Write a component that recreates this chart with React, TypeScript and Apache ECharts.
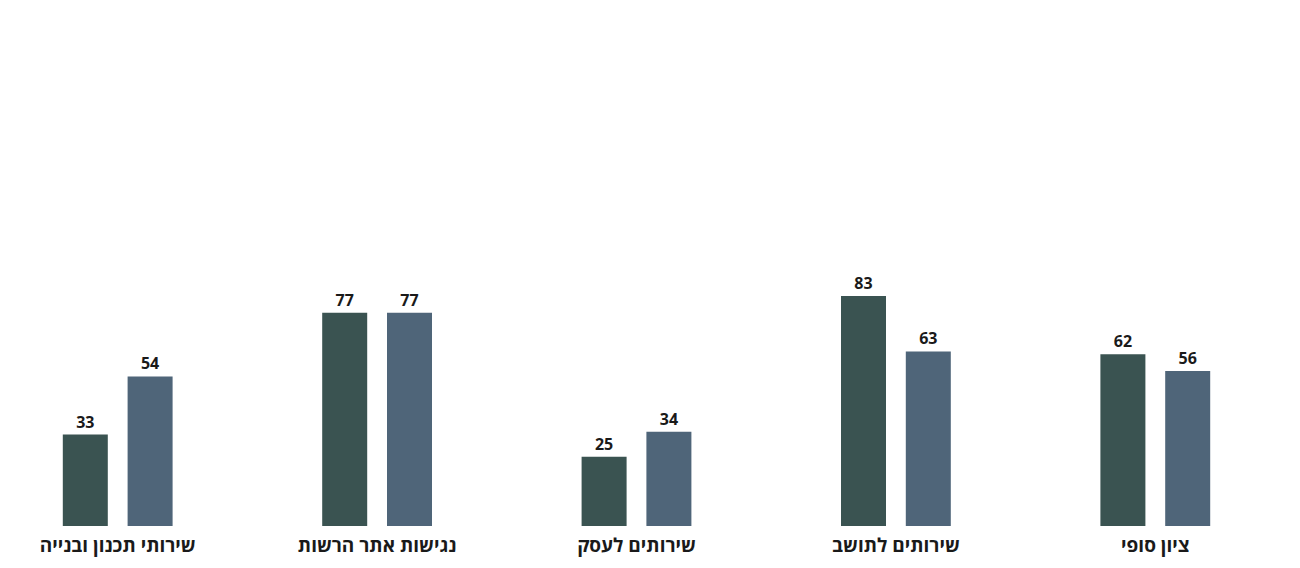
import React, { useEffect, useRef } from "react";
import * as echarts from "echarts";

const categories = [
  "שירותי תכנון ובנייה",
  "נגישות אתר הרשות",
  "שירותים לעסק",
  "שירותים לתושב",
  "ציון סופי",
];
const seriesA = [33, 77, 25, 83, 62];
const seriesB = [54, 77, 34, 63, 56];

export default function App() {
  const ref = useRef<HTMLDivElement>(null);
  useEffect(() => {
    if (!ref.current) return;
    const chart = echarts.init(ref.current, undefined, { renderer: "svg" });
    const label = {
      show: true,
      position: "top",
      distance: 5,
      fontFamily: "Open Sans",
      fontWeight: "bold",
      fontSize: 16,
      color: "#1a1a1a",
    };
    chart.setOption({
      animation: false,
      backgroundColor: "#ffffff",
      grid: { left: 0, right: 15, top: 249, bottom: 42, containLabel: false },
      xAxis: {
        type: "category",
        data: categories,
        axisLine: { show: false },
        axisTick: { show: false },
        axisLabel: {
          margin: 9,
          fontFamily: "Open Sans",
          fontWeight: "bold",
          fontSize: 19,
          color: "#1a1a1a",
          interval: 0,
        },
      },
      yAxis: {
        type: "value",
        min: 0,
        max: 100,
        show: false,
        splitLine: { show: false },
      },
      series: [
        {
          type: "bar",
          data: seriesA,
          barWidth: 45,
          barGap: "44%",
          itemStyle: { color: "#3a5351" },
          label,
        },
        {
          type: "bar",
          data: seriesB,
          barWidth: 45,
          barGap: "44%",
          itemStyle: { color: "#4f6579" },
          label,
        },
      ],
    });
    return () => chart.dispose();
  }, []);
  return (
    <div style={{ position: "fixed", left: 0, top: 0, width: 1300, height: 568, overflow: "hidden", background: "#fff" }}>
      <div
        ref={ref}
        style={{ position: "absolute", left: -12, top: 0, width: 1312, height: 568 }}
      />
    </div>
  );
}
